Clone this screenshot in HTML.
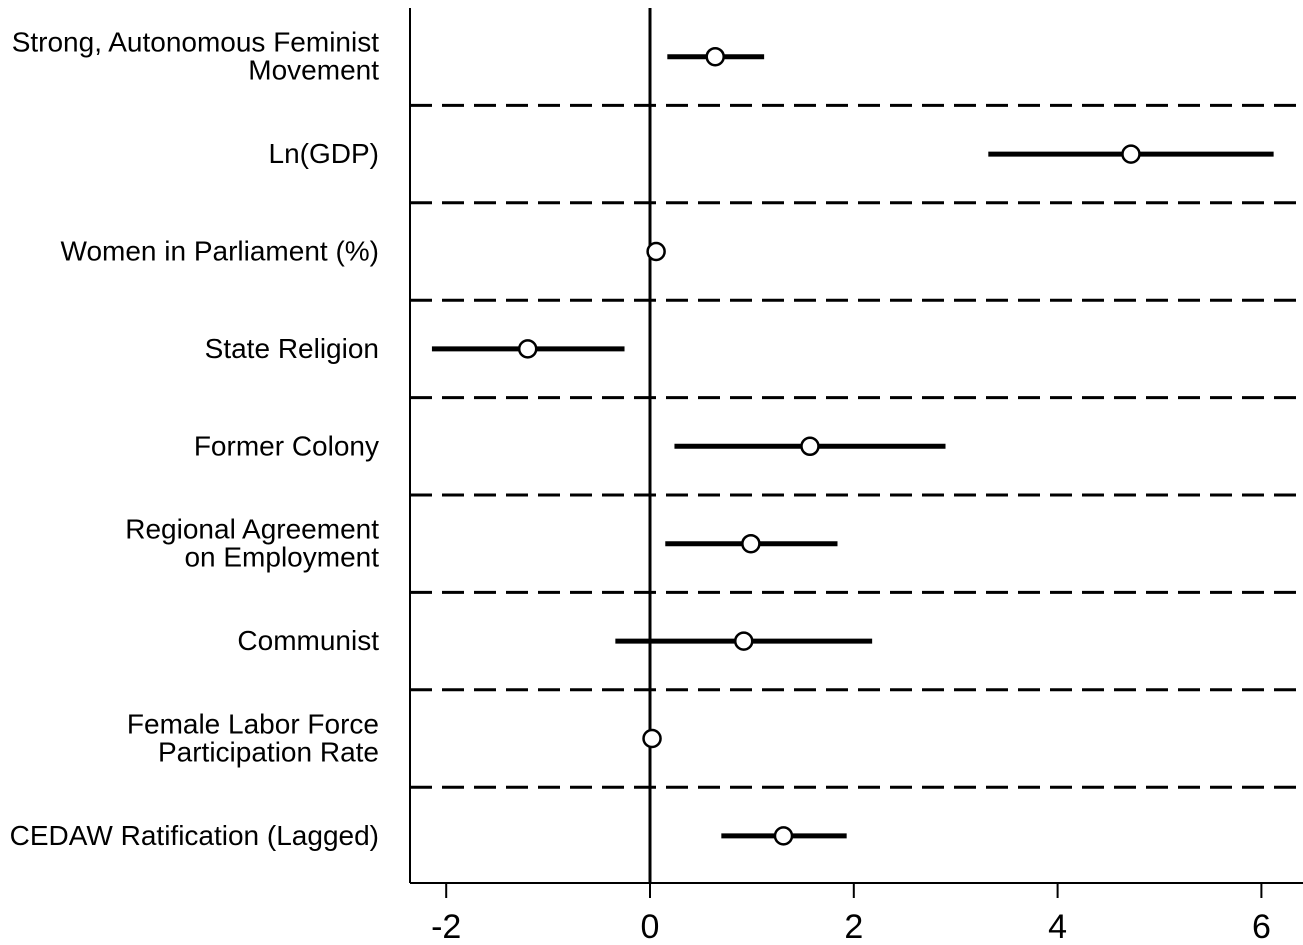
<!DOCTYPE html>
<html><head><meta charset="utf-8"><style>
html,body{margin:0;padding:0;background:#fff;}
svg{display:block;font-family:"Liberation Sans",Arial,sans-serif;}
</style></head><body>
<svg id="chart" width="1303" height="945"></svg>
<script>
const labels = [["Strong, Autonomous Feminist","Movement"],["Ln(GDP)"],["Women in Parliament (%)"],["State Religion"],["Former Colony"],["Regional Agreement","on Employment"],["Communist"],["Female Labor Force","Participation Rate"],["CEDAW Ratification (Lagged)"]];
const estimates = [0.64, 4.72, 0.06, -1.2, 1.57, 0.99, 0.92, 0.02, 1.31];
const lower = [0.17, 3.32, 0.06, -2.14, 0.24, 0.15, -0.34, 0.02, 0.70];
const upper = [1.12, 6.12, 0.06, -0.25, 2.90, 1.84, 2.18, 0.02, 1.93];
const ticks = [-2, 0, 2, 4, 6];

const NS="http://www.w3.org/2000/svg";
const svgEl=document.getElementById('chart');
const x0=650, ppu=101.9, plotLeft=410, plotBottom=883, plotTop=8, plotRight=1303;
const rowTop=8, rowH=97.4;
const X=v=>x0+v*ppu;
const Y=i=>rowTop+rowH*(i+0.5);
function mk(t,a,p){const e=document.createElementNS(NS,t);for(const k in a)e.setAttribute(k,a[k]);(p||svgEl).appendChild(e);return e;}

let e=mk('line',{x1:plotLeft,y1:plotTop,x2:plotLeft,y2:plotBottom,stroke:'#000','stroke-width':2});


e=mk('line',{x1:plotLeft,y1:plotBottom,x2:plotRight,y2:plotBottom,stroke:'#000','stroke-width':2});


e=mk('line',{x1:X(0),y1:plotTop,x2:X(0),y2:plotBottom,stroke:'#000','stroke-width':3});



ticks.forEach(t=>{
  let l=mk('line',{x1:X(t),y1:plotBottom,x2:X(t),y2:898,stroke:'#000','stroke-width':2});
  
  
  let tx=mk('text',{x:X(t),y:938,'text-anchor':'middle','font-size':34});
  tx.textContent=t;
  
  
});

for(let i=1;i<labels.length;i++){
  const y=rowTop+rowH*i;
  let l=mk('line',{x1:plotLeft,y1:y,x2:plotRight,y2:y,stroke:'#000','stroke-width':3,'stroke-dasharray':'22,10'});
  
  
}

labels.forEach((lab,i)=>{
  const y=Y(i);
  const t=mk('text',{x:379,'text-anchor':'end','font-size':28});
  
  
  lab.forEach((s,j)=>{
    const ts=mk('tspan',{x:379,y:y+9+(j-(lab.length-1)/2)*28},t);
    ts.textContent=s;
  });
  if(upper[i]>lower[i]){
    const l=mk('line',{x1:X(lower[i]),y1:y,x2:X(upper[i]),y2:y,stroke:'#000','stroke-width':5});
    
    
  }
  const c=mk('circle',{cx:X(estimates[i]),cy:y,r:8.5,fill:'#fff',stroke:'#000','stroke-width':2.5});
  
  
});
</script>
</body></html>
